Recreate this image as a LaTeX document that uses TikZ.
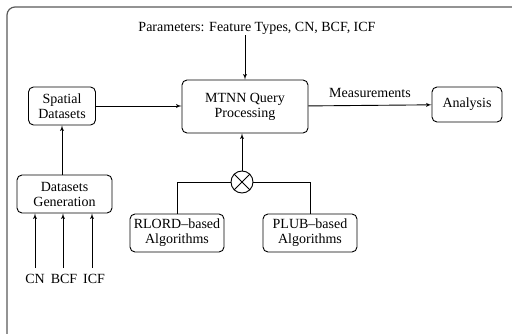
\documentclass[tikz,border=0pt]{standalone}
\usepackage{fontspec}
\setmainfont{Liberation Serif}
\usepackage{tikz}
\usetikzlibrary{shapes,arrows}
\usetikzlibrary{positioning}
\tikzset{auto,>=latex', x=1pt, y=-1pt, font=\fontsize{14}{15}\selectfont}
\tikzstyle{block} = [draw, fill=white, rectangle, rounded corners=5pt, line width=0.9pt, text centered, align=center, inner sep=2pt]
\tikzstyle{mixer} = [draw, fill=white, circle, minimum size=22pt, line width=0.9pt]
\tikzstyle{textlabel} = [inner sep=1pt]

\begin{document}
\begin{tikzpicture}
		\useasboundingbox (0,0) rectangle (512,334);
		\clip (0,0) rectangle (512,334);
		\draw [line width=1.2pt, gray!70!black, rounded corners=8pt] (7,7) rectangle (530,350);

		\node [textlabel] (params) at (257,28) {Parameters: Feature Types, CN, BCF, ICF};
		\node [block, minimum width=126pt, minimum height=53pt] (mtnn) at (245,106.5) {MTNN Query\\Processing};
		\node [block, minimum width=67pt, minimum height=38pt] (spatial) at (62,106) {Spatial\\Datasets};
		\node [block, minimum width=70pt, minimum height=35pt] (analysis) at (467,104.5) {Analysis};
		\node [block, minimum width=95pt, minimum height=38pt] (generation) at (64.5,194) {Datasets\\Generation};
		\node [mixer] (mix) at (242,182) {};
		\node [block, minimum width=94pt, minimum height=38pt] (rlord) at (177,233) {RLORD--based\\Algorithms};
		\node [block, minimum width=94pt, minimum height=38pt] (plub) at (310,233) {PLUB--based\\Algorithms};
		\node [textlabel] (cn) at (35,279) {CN};
		\node [textlabel] (bcf) at (64,279) {BCF};
		\node [textlabel] (icf) at (94,279) {ICF};

		\draw [line width=0.9pt] (mix.north west) -- (mix.south east);
		\draw [line width=0.9pt] (mix.north east) -- (mix.south west);

		\draw [->, line width=0.9pt] (params.south -| mtnn) -- (mtnn);
		\draw [->, line width=0.9pt] (spatial) -- (spatial -| mtnn.west);
		\draw [->, line width=0.9pt] (mtnn) -- node [pos=0.5, yshift=4pt] {Measurements} (analysis);
		\draw [->, line width=0.9pt] (generation.north -| spatial) -- (spatial);
		\draw [->, line width=0.9pt] (mix) -- (mix |- mtnn.south);
		\draw [line width=0.9pt] (rlord.north) |- (mix.west);
		\draw [line width=0.9pt] (plub.north) |- (mix.east);
		\draw [->, line width=0.9pt] ([yshift=5pt]cn.north) -- (cn |- generation.south);
		\draw [->, line width=0.9pt] ([xshift=-1pt, yshift=5pt]bcf.north) -- ([xshift=-1pt]bcf |- generation.south);
		\draw [->, line width=0.9pt] ([xshift=-2pt, yshift=5pt]icf.north) -- ([xshift=-2pt]icf |- generation.south);
	\end{tikzpicture}
\end{document}
